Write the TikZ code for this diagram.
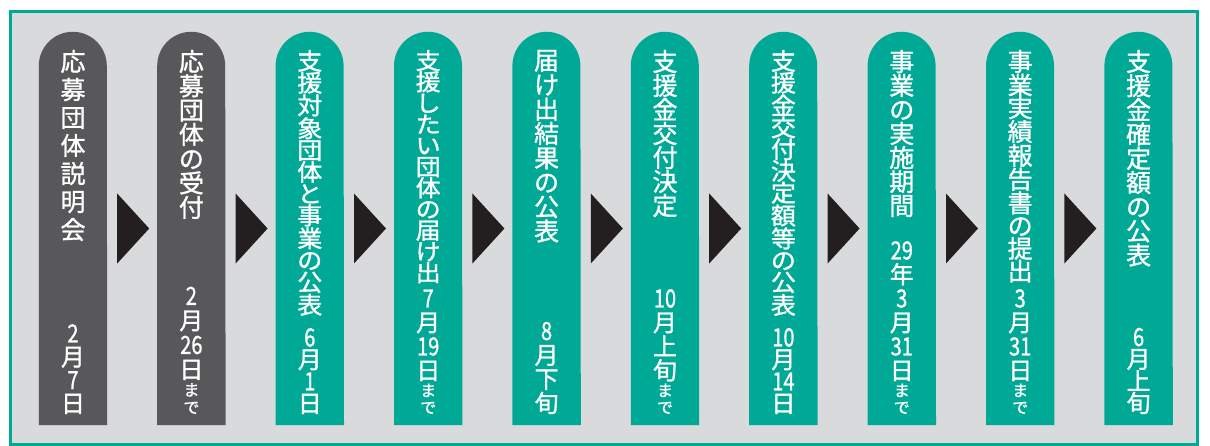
\documentclass[tikz,border=0pt]{standalone}
\usepackage{fontspec}
\usepackage{graphicx}
\setmainfont{Noto Sans CJK JP}[FakeBold=1.2]
\usepackage{tikz}
\definecolor{frame}{HTML}{00A996}
\definecolor{paper}{HTML}{D9DADB}
\definecolor{early}{HTML}{58585A}
\definecolor{stage}{HTML}{00A996}
\definecolor{pointer}{HTML}{231F20}
\newcommand\vstack[1]{\def\vacc{}\vstackfirst#1\relax\vacc}
\def\vstackfirst#1{\def\vacc{\scalebox{1}[\vsq]{#1}}\vstackrest}
\def\vstackrest#1{\ifx\relax#1\else\expandafter\def\expandafter\vacc\expandafter{\vacc\\\scalebox{1}[\vsq]{#1}}\expandafter\vstackrest\fi}
\newcommand\nm[1]{\scalebox{0.8}[1]{\fontsize{25}{24}\selectfont #1}}
\newcommand\sm[1]{{\fontsize{16}{17}\selectfont #1}}
\tikzset{
  stagebox/.style={minimum width=68pt, minimum height=393pt, inner sep=0pt},
  ttl/.style={text=white, font=\fontsize{25}{#1}\selectfont, align=center, anchor=north, inner sep=0pt},
  when/.style={text=white, font=\fontsize{24}{#1}\selectfont, align=center, anchor=south, inner sep=0pt},
  rim/.style={draw=frame, line width=3pt, fill=paper},
  tri/.style={fill=pointer},
}

\begin{document}
\begin{tikzpicture}[x=1pt,y=-1pt]
  \useasboundingbox (0,0) rectangle (1210,446);
  \draw[rim] (10,12) rectangle (1197,444.5);
  \foreach \idx/\tone/\head/\hgap/\when/\wgap in {
    1/early/応募団体説明会/28/{\nm{2}\\月\\\nm{7}\\日}/23.3,
    2/early/応募団体の受付/24.3/{\nm{2}\\月\\\nm{26}\\日\\[-7pt]\sm{ま}\\[-7pt]\sm{で}}/24.5,
    3/stage/支援対象団体と事業の公表/21.8/{\nm{6}\\月\\\nm{1}\\日}/22,
    4/stage/支援したい団体の届け出/21.2/{\nm{7}\\月\\\nm{19}\\日\\[-7pt]\sm{ま}\\[-7pt]\sm{で}}/24,
    5/stage/届け出結果の公表/24.4/{\nm{8}\\月\\下\\旬}/24,
    6/stage/支援金交付決定/24/{\nm{10}\\月\\上\\旬\\[-7pt]\sm{ま}\\[-7pt]\sm{で}}/24,
    7/stage/支援金交付決定額等の公表/21.8/{\nm{10}\\月\\\nm{14}\\日}/22,
    8/stage/事業の実施期間/24/{\nm{29}\\年\\\nm{3}\\月\\\nm{31}\\日\\[-7pt]\sm{ま}\\[-7pt]\sm{で}}/24,
    9/stage/事業実績報告書の提出/22.7/{\nm{3}\\月\\\nm{31}\\日\\[-7pt]\sm{ま}\\[-7pt]\sm{で}}/24,
    10/stage/支援金確定額の公表/24.2/{\nm{6}\\月\\上\\旬}/22}{
    \pgfmathsetmacro\vsq{min(1,(\hgap-1)/22)}
    \node[stagebox] (s\idx) at ({73+118.4*(\idx-1)},228.5) {};
    \fill[\tone] (s\idx.south west) -- ([yshift=-34pt]s\idx.north west)
      arc[start angle=180, end angle=0, radius=34pt] -- (s\idx.south east) -- cycle;
    \node[ttl=\hgap] (t\idx) at ([yshift=-18pt]s\idx.north) {\expandafter\vstack\expandafter{\head}};
    \node[when=\wgap] (d\idx) at ([yshift=11pt]s\idx.south) {\when};
  }
  \foreach \idx in {1,...,9}
    \fill[tri] ([xshift=10pt,yshift=35pt]s\idx.east) -- ([xshift=42pt]s\idx.east)
      -- ([xshift=10pt,yshift=-35pt]s\idx.east) -- cycle;
\end{tikzpicture}
\end{document}
